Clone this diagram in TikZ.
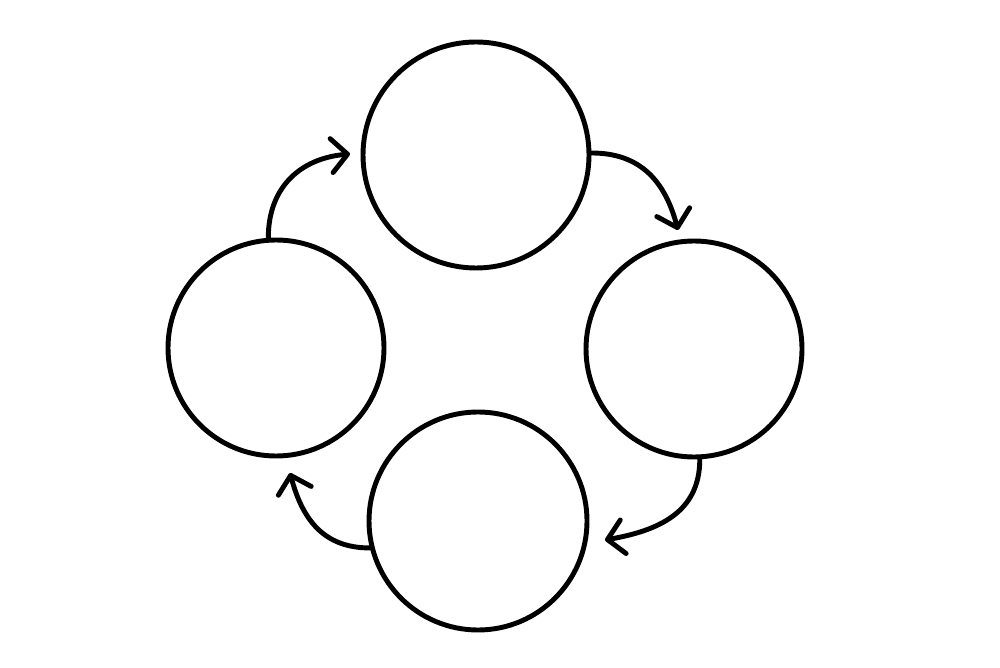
\documentclass[tikz,border=0pt]{standalone}
\usepackage{tikz}
\usetikzlibrary{arrows.meta}
\tikzstyle{bubble} = [draw, circle, line width=1.4pt, inner sep=0pt]
\tikzstyle{es} = [line width=1.4pt, line cap=round, -{Straight Barb[length=1.6mm, width=3.4mm, line cap=round, line join=round]}]

\begin{document}
\begin{tikzpicture}
			\useasboundingbox (0,0) rectangle (10,6.67);
			\node[bubble, minimum size=2.26cm] (top) at (4.76,5.12) {};
			\node[bubble, minimum size=2.16cm] (right) at (6.94,3.18) {};
			\node[bubble, minimum size=2.18cm] (bottom) at (4.78,1.46) {};
			\node[bubble, minimum size=2.16cm] (left) at (2.76,3.19) {};
			\coordinate (tipA) at (6.78,4.37);
			\coordinate (tipB) at (6.05,1.27);
			\coordinate (tipC) at (2.90,1.94);
			\coordinate (tipD) at (3.50,5.13);
			\draw [es] (top.1) to[out=0, in=105, looseness=1.1] (tipA);
			\draw [es] (right.-87) to[out=-90, in=10, looseness=1.1] (tipB);
			\draw [es] (bottom.194) to[out=180, in=-75, looseness=1.1] (tipC);
			\draw [es] (left.94) to[out=90, in=185, looseness=1.1] (tipD);
		\end{tikzpicture}
\end{document}
